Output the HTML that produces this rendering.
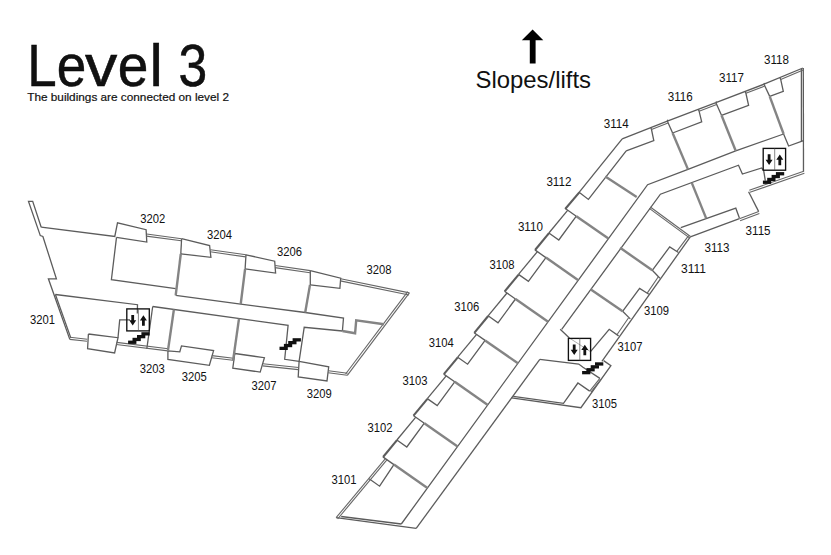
<!DOCTYPE html>
<html lang="en"><head><meta charset="utf-8"><title>Level 3</title>
<style>html,body{margin:0;padding:0;background:#fff}svg{display:block}text{font-family:"Liberation Sans",sans-serif;fill:#111}.t{fill:none;stroke:#5c5c5c;stroke-width:1.3;stroke-linejoin:miter}.k{fill:none;stroke:#848484;stroke-width:2.4;stroke-linecap:butt}.d{fill:none;stroke:#666;stroke-width:1.1}</style></head><body>
<svg width="831" height="555" viewBox="0 0 831 555">
<rect width="831" height="555" fill="#fff"/>
<g class="t">
<polyline points="41.2,227.2 32.7,201.4 28.5,201.4 40.3,235.6 42.9,236.5 56.4,278.8 48.4,278.8 69.8,339.4"/>
<polyline points="55.4,294.5 70.8,337.9"/>
<polyline points="41.2,227.2 114.8,236.5 117.5,222.9 146.1,229.7 146.8,242.1 116.5,237.3"/>
<polyline points="181.6,238.7 209.6,245.5 210.9,257.3 180.8,253.9"/>
<polyline points="246,254.8 274.7,261.2 275.6,273.1 245.1,268.9"/>
<polyline points="310.3,270.6 340.7,278.2 339.9,288.3 310.3,284.9"/>
<polyline points="116.5,237.3 111.4,279.6 175.7,288.6"/>
<polyline points="181.6,238.7 180.8,253.9"/>
<polyline points="175.7,295.4 240.7,304.2 305.2,312.5 343.5,318 342.4,331"/>
<polyline points="246,254.8 245.1,268.9"/>
<polyline points="310.3,270.6 310.3,284.9"/>
<polyline points="55.4,294.5 137.5,304.7 137.3,313.5"/>
<polyline points="152.7,306.5 288.1,325.4 284.7,359.3 299.1,361.3"/>
<polyline points="152.7,306.5 146.8,348.9"/>
<polyline points="299.1,361.3 304.2,327.3 342.4,331"/>
<polyline points="88.4,334 118,337.7 114.6,353 87.6,348.7 88.4,334"/>
<polyline points="118,337.7 119.7,319.9 130,319.9"/>
<polyline points="167.9,350.9 179.8,351.8 181.5,345.9 213.6,350.6 209.4,365.3 167.9,359.4 167.9,350.9"/>
<polyline points="234.8,353.5 264.4,357.7 260.2,372.1 232.8,368.2 234.8,353.5"/>
<polyline points="299.1,361.3 328.7,366.9 327,380.9 298.2,377 299.1,361.3"/>
<polyline points="803.3,68 803.5,171.7"/>
<polyline points="801.4,69 801.4,141.3"/>
<polyline points="802.9,68 764,84.2"/>
<polyline points="779.9,77.6 780.7,79.4 783.3,91.3 769.7,96.4"/>
<polyline points="764.6,82.9 764,84.2"/>
<polyline points="764,84.2 715.9,102.7"/>
<polyline points="745.2,91.4 745.9,93.3 748.6,105.4 721.5,115.3"/>
<polyline points="716.5,101.4 715.9,102.7"/>
<polyline points="715.9,102.7 667.3,121.1"/>
<polyline points="698.4,109.3 699.1,111.2 701.7,121.8 672.6,133"/>
<polyline points="667.9,119.8 667.3,121.1"/>
<polyline points="667.3,121.1 622.2,138.9"/>
<polyline points="650.8,127.6 651.5,129.5 653.8,140.6 626.2,150.8"/>
<polyline points="764,84.2 769.7,96.4"/>
<polyline points="783.6,134 788.6,146 803.5,140.6"/>
<polyline points="715.9,102.7 721.5,115.3"/>
<polyline points="667.3,121.1 672.6,133"/>
<polyline points="783.6,134 735.7,150.8 688,169.4 647.6,184.7 401.3,524"/>
<polyline points="763.3,170.2 761.7,168 742.4,174 738.5,165.2 660.4,194.2 561.7,329.3"/>
<polyline points="539.8,359.3 416.2,528.4"/>
<polyline points="763.6,170.2 765.3,180.7"/>
<polyline points="748.6,191.8 758.7,211.6"/>
<polyline points="739.4,218.7 690.3,236.9"/>
<polyline points="680.8,227.7 735.8,208.2 739.4,218"/>
<polyline points="622.2,138.9 579.1,192.3"/>
<polyline points="626.2,150.8 588.4,199.4 579.1,192.3"/>
<polyline points="565.3,208.5 576.3,216.2"/>
<polyline points="567.8,210.2 548.9,233"/>
<polyline points="576.3,216.2 558.8,240 548.9,233"/>
<polyline points="534.9,249.9 545.9,257.6"/>
<polyline points="537.4,251.6 518.5,274.4"/>
<polyline points="545.9,257.6 528.4,281.4 518.5,274.4"/>
<polyline points="504.5,291.3 515.5,299"/>
<polyline points="507,293 488.1,315.8"/>
<polyline points="515.5,299 498,322.8 488.1,315.8"/>
<polyline points="474.1,332.7 485.1,340.4"/>
<polyline points="476.6,334.4 457.7,357.2"/>
<polyline points="485.1,340.4 467.6,364.2 457.7,357.2"/>
<polyline points="443.7,374.1 454.7,381.8"/>
<polyline points="446.2,375.8 427.3,398.6"/>
<polyline points="454.7,381.8 437.2,405.6 427.3,398.6"/>
<polyline points="413.3,415.5 424.3,423.2"/>
<polyline points="415.8,417.2 396.9,440"/>
<polyline points="424.3,423.2 406.8,447 396.9,440"/>
<polyline points="382.9,456.9 393.9,464.6"/>
<polyline points="393.9,464.6 379.6,486.2 369.1,478.8"/>
<polyline points="336.1,517.7 416.2,528.4"/>
<polyline points="341.2,516.5 401.3,524"/>
<polyline points="690.3,236.9 601.9,361.3"/>
<polyline points="652.3,270.3 669.7,246.9 678.5,252.5"/>
<polyline points="622.6,311.3 639.6,288.4 648.9,294.3"/>
<polyline points="590.5,351.7 609.2,329.3 618.6,335.9"/>
<polyline points="652.3,270.3 659.9,278.2"/>
<polyline points="622.6,311.3 630.3,318.9"/>
<polyline points="560.2,329.3 569.4,338"/>
<polyline points="539.8,359.3 578.7,364 583,367.3 599.9,378.4"/>
<polyline points="511.6,397.9 580.9,407.7 610.9,365.7 603.6,360.6"/>
<polyline points="513.2,396.3 563.5,403.3 577.9,383 589.7,391.1"/>
</g>
<g class="d">
<polyline points="146.6,234 181.6,238.7"/>
<polyline points="146.3,236.1 181.3,240.8"/>
<polyline points="210.4,249.7 246,254.8"/>
<polyline points="210.1,251.8 245.7,256.9"/>
<polyline points="275.2,265.5 310.3,270.6"/>
<polyline points="274.9,267.6 310,272.7"/>
<polyline points="340.7,278.8 409.4,292.9"/>
<polyline points="340.3,280.9 409,295"/>
<polyline points="409.4,292.9 347.3,375.3"/>
<polyline points="407.7,291.6 345.6,374"/>
<polyline points="69.8,339.4 87,341.3"/>
<polyline points="70,337.3 87.2,339.2"/>
<polyline points="116.3,344.5 167.9,350.9"/>
<polyline points="116.6,342.4 168.2,348.8"/>
<polyline points="211.5,357.7 233.1,360.3"/>
<polyline points="211.8,355.6 233.4,358.2"/>
<polyline points="262.7,365.9 298.3,369.6"/>
<polyline points="262.9,363.8 298.5,367.5"/>
<polyline points="328.2,372.8 347.3,375.3"/>
<polyline points="328.5,370.7 347.6,373.2"/>
<polyline points="803.7,69.8 780.7,79.4"/>
<polyline points="764.7,86.1 745.9,93.3"/>
<polyline points="716.6,104.6 699.1,111.2"/>
<polyline points="668,123 651.5,129.5"/>
<polyline points="803.7,171.2 749.3,190.2"/>
<polyline points="804.4,173.3 750,192.3"/>
<polyline points="758.7,211.6 739.4,218.7"/>
<polyline points="759.4,213.6 740.1,220.7"/>
<polyline points="650.3,207 690.5,236.5"/>
<polyline points="649.3,208.4 689.5,237.9"/>
<polyline points="385.4,458.6 336.1,517.7"/>
<polyline points="386.9,459.9 337.6,519"/>
<polyline points="688.6,235.7 676.8,251.3"/>
<polyline points="658.2,277 647.2,293.1"/>
<polyline points="628.6,317.7 616.9,334.7"/>
<polyline points="589.7,391.1 599.9,378.4"/>
<polyline points="590.9,392.1 601.1,379.4"/>
</g>
<g class="t" style="stroke:#999;stroke-width:0.8">
<polyline points="569.4,338 590.5,351.7"/>
</g>
<g class="t" style="stroke:#5c5c5c;stroke-width:2.1">
<polyline points="579.3,192.4 565.2,209"/>
<polyline points="549,233.2 535.1,250"/>
<polyline points="518.6,274.6 504.7,291.4"/>
<polyline points="488.2,316 474.3,332.8"/>
<polyline points="457.8,357.4 443.9,374.2"/>
<polyline points="427.4,398.8 413.5,415.6"/>
<polyline points="397,440.2 383.1,457"/>
</g>
<g class="k">
<polyline points="180.8,253.9 175.7,295.4"/>
<polyline points="245.1,268.9 240.7,304.2"/>
<polyline points="310,284.9 305.2,312.5"/>
<polyline points="342.4,331 355.1,333.3 356.2,320.4 384,324.2"/>
<polyline points="173.9,309.5 167.9,350.9"/>
<polyline points="239,318.6 233.1,360.3"/>
<polyline points="769.7,96.4 783.6,134"/>
<polyline points="721.5,115.3 735.7,150.8"/>
<polyline points="672.6,133 688,169.4"/>
<polyline points="691.8,182.9 706.2,218.4"/>
<polyline points="605.3,176.6 636.7,196.9"/>
<polyline points="576.3,216.2 608.4,238.6"/>
<polyline points="545.9,257.6 578.3,280.2"/>
<polyline points="515.5,299 548.1,321.8"/>
<polyline points="485.1,340.4 517.9,363.3"/>
<polyline points="454.7,381.8 487.8,404.9"/>
<polyline points="424.3,423.2 457.6,446.5"/>
<polyline points="393.9,464.6 427.4,488"/>
<polyline points="620.1,247.8 652.3,270.3"/>
<polyline points="590.5,289.3 622.6,311.3"/>
</g>
<g>
<rect x="126.8" y="308.9" width="22.5" height="22" fill="none" stroke="#111" stroke-width="1.35"/>
<line x1="138.4" y1="308.9" x2="138.4" y2="330.9" stroke="#555" stroke-width="0.7"/>
<path d="M131.3 314.9 h2.8 v5.4 h2.1 l-3.5 5.2 l-3.5 -5.2 h2.1 z" fill="#111"/>
<path d="M142 325.8 h2.8 v-5.4 h2.1 l-3.5 -5.2 l-3.5 5.2 h2.1 z" fill="#111"/>
<rect x="128.1" y="340.6" width="8.3" height="3.3" fill="#111"/>
<rect x="132.5" y="337.8" width="8.3" height="3.3" fill="#111"/>
<rect x="137" y="335" width="8.3" height="3.3" fill="#111"/>
<rect x="141.4" y="332.2" width="8.3" height="3.3" fill="#111"/>
<rect x="279.5" y="346.7" width="8.3" height="3.3" fill="#111"/>
<rect x="283.9" y="343.9" width="8.3" height="3.3" fill="#111"/>
<rect x="288.2" y="341" width="8.3" height="3.3" fill="#111"/>
<rect x="292.6" y="338.2" width="8.3" height="3.3" fill="#111"/>
<rect x="763.2" y="148.4" width="22.4" height="21.8" fill="none" stroke="#111" stroke-width="1.35"/>
<line x1="774.7" y1="148.4" x2="774.7" y2="170.2" stroke="#555" stroke-width="0.7"/>
<path d="M767.7 154.3 h2.8 v5.4 h2.1 l-3.5 5.2 l-3.5 -5.2 h2.1 z" fill="#111"/>
<path d="M778.4 165.2 h2.8 v-5.4 h2.1 l-3.5 -5.2 l-3.5 5.2 h2.1 z" fill="#111"/>
<rect x="762.9" y="180.6" width="8.3" height="3.3" fill="#111"/>
<rect x="767.2" y="177.8" width="8.3" height="3.3" fill="#111"/>
<rect x="771.6" y="174.9" width="8.3" height="3.3" fill="#111"/>
<rect x="775.9" y="172.1" width="8.3" height="3.3" fill="#111"/>
<rect x="568.4" y="338.4" width="22.2" height="22" fill="none" stroke="#111" stroke-width="1.35"/>
<line x1="579.8" y1="338.4" x2="579.8" y2="360.4" stroke="#555" stroke-width="0.7"/>
<path d="M572.8 344.4 h2.8 v5.4 h2.1 l-3.5 5.2 l-3.5 -5.2 h2.1 z" fill="#111"/>
<path d="M583.4 355.3 h2.8 v-5.4 h2.1 l-3.5 -5.2 l-3.5 5.2 h2.1 z" fill="#111"/>
<rect x="582.1" y="371" width="8.3" height="3.3" fill="#111"/>
<rect x="586.4" y="368.1" width="8.3" height="3.3" fill="#111"/>
<rect x="590.7" y="365.2" width="8.3" height="3.3" fill="#111"/>
<rect x="595" y="362.3" width="8.3" height="3.3" fill="#111"/>
</g>
<path d="M532.6 29.5 L543.3 40.2 H535.6 V63.4 H529.8 V40.2 H521.8 Z" fill="#000"/>
<g>
<text y="85.6" font-size="60" fill="#000" stroke="#000" stroke-width="0.5" xml:space="preserve"><tspan x="27.2" textLength="29.4" lengthAdjust="spacingAndGlyphs">L</tspan><tspan x="56.8" textLength="29.5" lengthAdjust="spacingAndGlyphs">e</tspan><tspan x="85.1" textLength="32.3" lengthAdjust="spacingAndGlyphs">v</tspan><tspan x="117.7" textLength="30.6" lengthAdjust="spacingAndGlyphs">e</tspan><tspan x="149.5" textLength="13.3" lengthAdjust="spacingAndGlyphs">l</tspan><tspan x="163" textLength="16.7" lengthAdjust="spacingAndGlyphs"> </tspan><tspan x="178.4" textLength="28.7" lengthAdjust="spacingAndGlyphs">3</tspan></text>
<text x="27.2" y="100.7" font-size="11.5" textLength="201.8" lengthAdjust="spacingAndGlyphs" stroke="#111" stroke-width="0.2">The buildings are connected on level 2</text>
<text x="475.5" y="88.3" font-size="24" textLength="115.5" lengthAdjust="spacingAndGlyphs" fill="#000">Slopes/lifts</text>
<text x="140.2" y="222.7" font-size="12.3" textLength="25" lengthAdjust="spacingAndGlyphs">3202</text>
<text x="207" y="239.1" font-size="12.3" textLength="25" lengthAdjust="spacingAndGlyphs">3204</text>
<text x="277" y="256.1" font-size="12.3" textLength="25" lengthAdjust="spacingAndGlyphs">3206</text>
<text x="366.6" y="273.6" font-size="12.3" textLength="25" lengthAdjust="spacingAndGlyphs">3208</text>
<text x="30" y="323.7" font-size="12.3" textLength="25" lengthAdjust="spacingAndGlyphs">3201</text>
<text x="139.8" y="372.5" font-size="12.3" textLength="25" lengthAdjust="spacingAndGlyphs">3203</text>
<text x="181.8" y="381.1" font-size="12.3" textLength="25" lengthAdjust="spacingAndGlyphs">3205</text>
<text x="251.4" y="389.6" font-size="12.3" textLength="25" lengthAdjust="spacingAndGlyphs">3207</text>
<text x="306.7" y="398.2" font-size="12.3" textLength="25" lengthAdjust="spacingAndGlyphs">3209</text>
<text x="331.5" y="483.6" font-size="12.3" textLength="25" lengthAdjust="spacingAndGlyphs">3101</text>
<text x="367.5" y="432.4" font-size="12.3" textLength="25" lengthAdjust="spacingAndGlyphs">3102</text>
<text x="402.5" y="384.6" font-size="12.3" textLength="25" lengthAdjust="spacingAndGlyphs">3103</text>
<text x="428.8" y="347.3" font-size="12.3" textLength="25" lengthAdjust="spacingAndGlyphs">3104</text>
<text x="454.2" y="310.5" font-size="12.3" textLength="25" lengthAdjust="spacingAndGlyphs">3106</text>
<text x="489.6" y="269" font-size="12.3" textLength="25" lengthAdjust="spacingAndGlyphs">3108</text>
<text x="517.9" y="231.2" font-size="12.3" textLength="25" lengthAdjust="spacingAndGlyphs">3110</text>
<text x="546.4" y="185.9" font-size="12.3" textLength="25" lengthAdjust="spacingAndGlyphs">3112</text>
<text x="603.7" y="128.4" font-size="12.3" textLength="25" lengthAdjust="spacingAndGlyphs">3114</text>
<text x="667.8" y="100.9" font-size="12.3" textLength="25" lengthAdjust="spacingAndGlyphs">3116</text>
<text x="719" y="82.2" font-size="12.3" textLength="25" lengthAdjust="spacingAndGlyphs">3117</text>
<text x="764" y="64.2" font-size="12.3" textLength="25" lengthAdjust="spacingAndGlyphs">3118</text>
<text x="745.6" y="235" font-size="12.3" textLength="25" lengthAdjust="spacingAndGlyphs">3115</text>
<text x="704.5" y="251.8" font-size="12.3" textLength="25" lengthAdjust="spacingAndGlyphs">3113</text>
<text x="681" y="273.2" font-size="12.3" textLength="25" lengthAdjust="spacingAndGlyphs">3111</text>
<text x="644.1" y="315" font-size="12.3" textLength="25" lengthAdjust="spacingAndGlyphs">3109</text>
<text x="617.4" y="350.9" font-size="12.3" textLength="25" lengthAdjust="spacingAndGlyphs">3107</text>
<text x="591.9" y="408.4" font-size="12.3" textLength="25" lengthAdjust="spacingAndGlyphs">3105</text>
</g>
</svg></body></html>
